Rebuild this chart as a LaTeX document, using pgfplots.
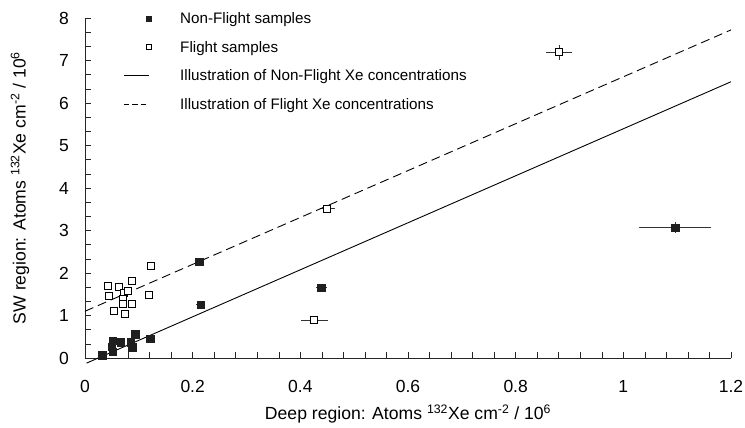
\documentclass[border=0pt]{standalone}
\usepackage{pgfplots}
\pgfplotsset{compat=1.18}
\usepackage{fontspec}
\setmainfont{Liberation Sans}
\begin{document}
\begin{tikzpicture}[x=1pt,y=1pt]
\path[use as bounding box] (0,0) rectangle (745,428);
\begin{axis}[
  at={(85pt,70pt)}, anchor=south west,
  scale only axis, width=646pt, height=340pt,
  xmin=0, xmax=1.2, ymin=0, ymax=8,
  axis lines=left, axis line style={-, line width=0.8pt, black!85},
  clip=false,
  xtick={0,0.2,0.4,0.6,0.8,1,1.2},
  xticklabels={0,0.2,0.4,0.6,0.8,1,1.2},
  ytick={0,1,2,3,4,5,6,7,8},
  minor x tick num=4, minor y tick num=2,
  tick align=inside,
  major tick length=6pt, minor tick length=6pt,
  tick style={black!85, line width=0.6pt},
  /pgf/number format/assume math mode=true,
  xticklabel style={font=\fontsize{17.5}{20}\selectfont, anchor=north, inner sep=0pt, yshift=-22pt},
  yticklabel style={font=\fontsize{17.5}{20}\selectfont, anchor=east, inner sep=0pt, xshift=-16pt},
  xlabel={Deep region: Atoms \textsuperscript{132}Xe cm\textsuperscript{-2} / 10\textsuperscript{6}},
  xlabel style={at={(axis description cs:0.5,-0.164)}, anchor=center, font=\fontsize{17.6}{20}\selectfont},
  ylabel={SW region: Atoms \textsuperscript{132}Xe cm\textsuperscript{-2} / 10\textsuperscript{6}},
  ylabel style={at={(axis description cs:-0.1006,0.5)}, anchor=center, font=\fontsize{17.6}{20}\selectfont},
  legend style={at={(axis description cs:0.0588,1.0226)}, anchor=north west, draw=none, fill=none,
    inner sep=0pt, row sep=12pt,
    font=\fontsize{15.2}{18}\selectfont,
    nodes={inner sep=2pt},
    /tikz/every odd column/.append style={column sep=27pt}},
  legend cell align=left,
]
\addplot[only marks, mark=square*, mark size=3.7pt, mark options={fill=black!88, draw=black!88},
  legend image code/.code={\draw[only marks, mark=square*, mark size=2.6pt, mark options={fill=black!88, draw=black!88}] plot coordinates {(25pt,0pt)};},
  error bars/.cd, x dir=both, x explicit, y dir=both, y explicit, error mark=none,
  error bar style={line width=1pt, black!80}]
  table[x=x, y=y, x error=ex, y error=ey] {
x y ex ey
0.032 0.07 0.003 0.02
0.050 0.27 0.003 0.02
0.052 0.15 0.003 0.02
0.052 0.40 0.003 0.02
0.066 0.37 0.003 0.02
0.085 0.37 0.003 0.02
0.088 0.25 0.003 0.02
0.093 0.56 0.003 0.03
0.121 0.45 0.003 0.03
0.212 2.27 0.008 0.04
0.215 1.26 0.008 0.04
0.439 1.65 0.010 0.05
1.096 3.06 0.067 0.13
};
\addlegendentry{Non-Flight samples}
\addplot[only marks, mark=square*, mark size=3.5pt, mark options={fill=white, draw=black, line width=1pt},
  legend image code/.code={\draw[only marks, mark=square*, mark size=2.6pt, mark options={fill=white, draw=black, line width=1pt}] plot coordinates {(25pt,0pt)};},
  error bars/.cd, x dir=both, x explicit, y dir=both, y explicit, error mark=none,
  error bar style={line width=1pt, black!80}]
  table[x=x, y=y, x error=ex, y error=ey] {
x y ex ey
0.042 1.70 0.003 0.03
0.044 1.45 0.003 0.03
0.064 1.67 0.003 0.03
0.054 1.11 0.003 0.03
0.073 1.54 0.003 0.03
0.079 1.57 0.003 0.03
0.071 1.38 0.003 0.03
0.070 1.26 0.003 0.03
0.088 1.26 0.003 0.03
0.075 1.03 0.003 0.03
0.088 1.81 0.003 0.03
0.119 1.48 0.003 0.03
0.122 2.16 0.006 0.04
0.450 3.51 0.014 0.05
0.426 0.89 0.025 0.03
0.881 7.19 0.024 0.18
};
\addlegendentry{Flight samples}
\addplot[black, line width=0.9pt, no marks,
  legend image code/.code={\draw[black, line width=0.9pt] (0pt,0pt) -- (25pt,0pt);}]
  coordinates {(0.003,-0.12) (1.2,6.5)};
\addlegendentry{Illustration of Non-Flight Xe concentrations}
\addplot[black, line width=0.9pt, no marks, dash pattern=on 9pt off 5pt,
  legend image code/.code={\draw[black, line width=0.9pt, dash pattern=on 5.5pt off 3pt] (0pt,0pt) -- (25pt,0pt);}]
  coordinates {(0,1.1) (1.2,7.72)};
\addlegendentry{Illustration of Flight Xe concentrations}
\end{axis}
\end{tikzpicture}
\end{document}
